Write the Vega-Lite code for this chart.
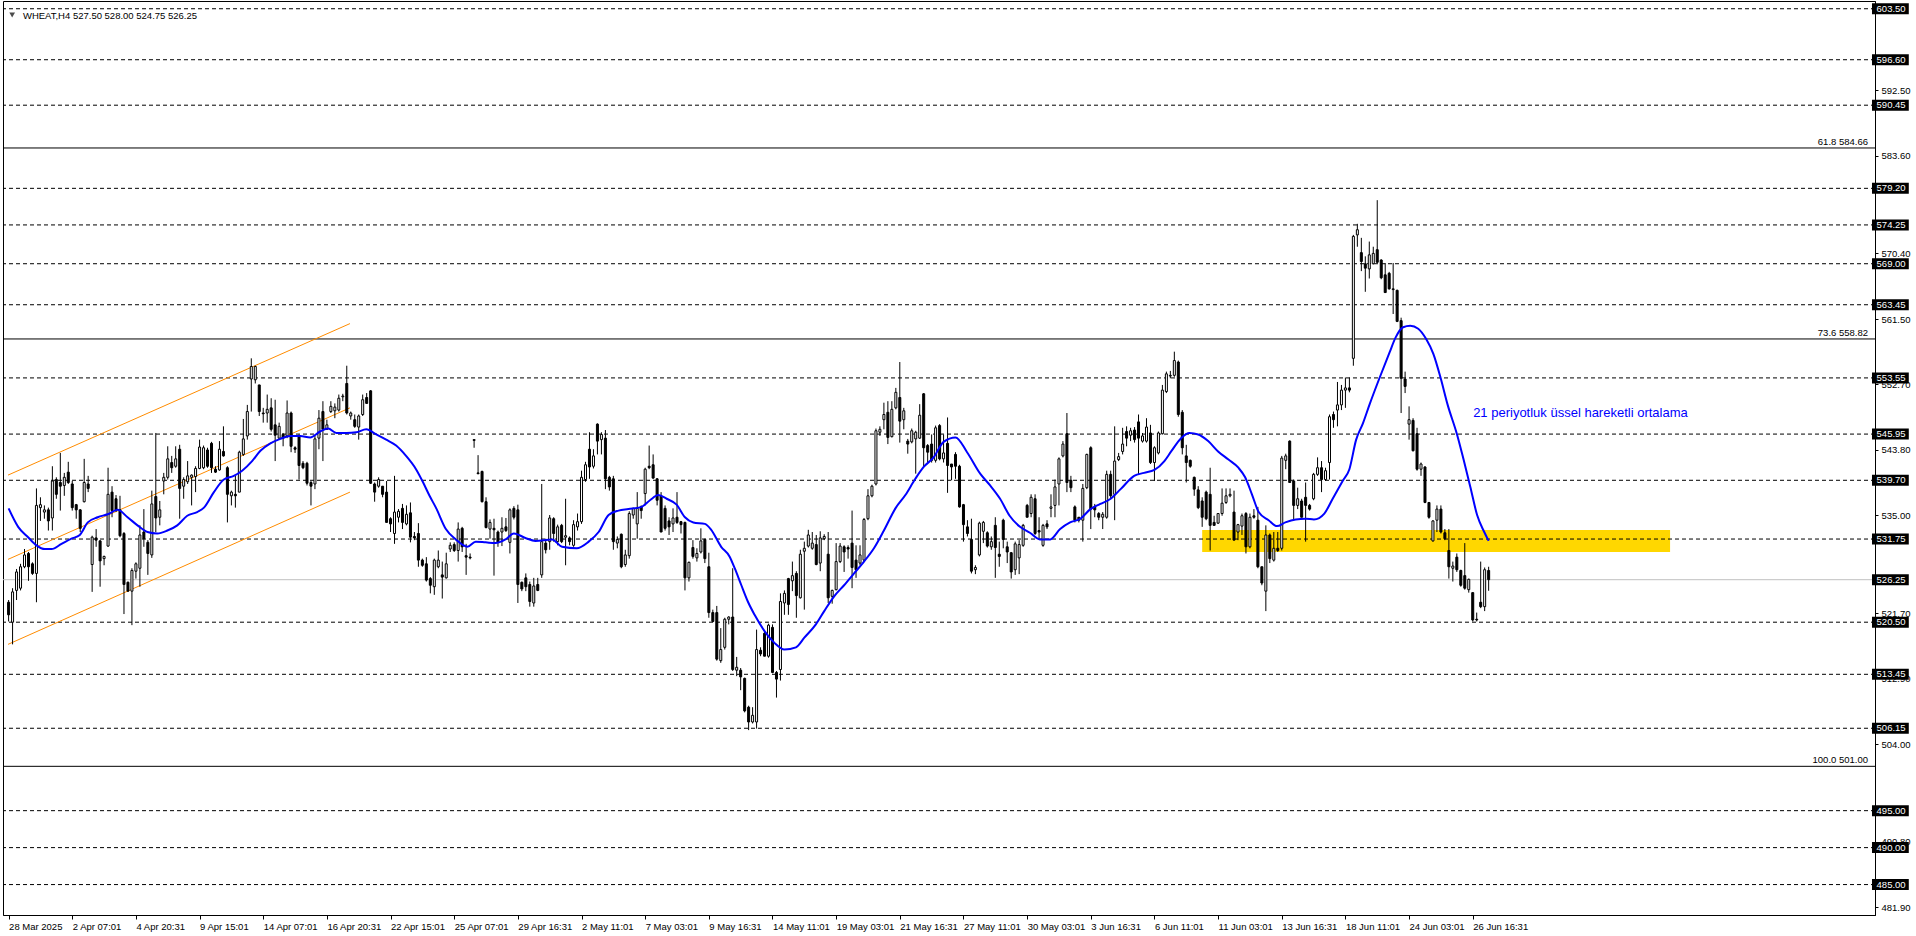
{
"$schema":"https://vega.github.io/schema/vega-lite/v6.json",
"width":1872,"height":914,
"autosize":{"type":"none"},
"padding":{"left":3,"top":1,"right":41,"bottom":21},
"background":"white",
"config":{"view":{"stroke":"black","strokeWidth":1},"font":"Liberation Sans"},
"datasets":{
"candles":[
{"i":0,"o":523.2,"h":523.5,"l":520.6,"c":521.5},{"i":1,"o":520.5,"h":525.1,"l":517.5,"c":524.6},{"i":2,"o":524.8,"h":527.7,"l":523.5,"c":527.3},{"i":3,"o":525.1,"h":528.4,"l":524.8,"c":528.0},{"i":4,"o":528.0,"h":530.4,"l":527.8,"c":529.6},{"i":5,"o":529.8,"h":530.0,"l":526.1,"c":528.0},{"i":6,"o":528.4,"h":528.6,"l":526.9,"c":527.1},{"i":7,"o":527.1,"h":538.6,"l":523.2,"c":536.3},{"i":8,"o":536.0,"h":537.4,"l":534.2,"c":536.4},{"i":9,"o":535.4,"h":536.3,"l":534.5,"c":535.7},
{"i":10,"o":535.7,"h":536.0,"l":532.9,"c":534.2},{"i":11,"o":534.6,"h":541.6,"l":532.9,"c":539.6},{"i":12,"o":539.8,"h":540.1,"l":537.2,"c":537.8},{"i":13,"o":539.4,"h":543.4,"l":535.6,"c":538.9},{"i":14,"o":539.0,"h":540.7,"l":537.6,"c":540.1},{"i":15,"o":540.8,"h":542.2,"l":539.2,"c":539.4},{"i":16,"o":539.2,"h":539.6,"l":535.6,"c":536.0},{"i":17,"o":536.4,"h":536.5,"l":534.5,"c":535.7},{"i":18,"o":535.7,"h":535.8,"l":532.7,"c":533.2},{"i":19,"o":536.8,"h":542.6,"l":536.7,"c":539.4},
{"i":20,"o":539.2,"h":540.3,"l":538.1,"c":538.6},{"i":21,"o":528.3,"h":532.2,"l":524.6,"c":532.0},{"i":22,"o":531.9,"h":533.1,"l":530.7,"c":531.6},{"i":23,"o":531.5,"h":531.6,"l":525.3,"c":528.8},{"i":24,"o":529.1,"h":529.5,"l":528.2,"c":529.4},{"i":25,"o":530.8,"h":541.4,"l":530.7,"c":537.8},{"i":26,"o":538.1,"h":538.9,"l":534.7,"c":535.6},{"i":27,"o":537.2,"h":537.7,"l":535.4,"c":535.7},{"i":28,"o":535.7,"h":537.6,"l":532.0,"c":532.2},{"i":29,"o":532.5,"h":532.7,"l":521.6,"c":525.6},
{"i":30,"o":525.9,"h":526.0,"l":524.6,"c":524.7},{"i":31,"o":524.7,"h":527.8,"l":520.1,"c":527.5},{"i":32,"o":527.4,"h":528.6,"l":526.4,"c":528.4},{"i":33,"o":527.8,"h":533.6,"l":525.3,"c":532.3},{"i":34,"o":532.7,"h":535.8,"l":530.7,"c":531.8},{"i":35,"o":531.3,"h":531.6,"l":526.9,"c":529.8},{"i":36,"o":529.6,"h":538.3,"l":529.2,"c":536.5},{"i":37,"o":537.5,"h":546.1,"l":532.7,"c":534.6},{"i":38,"o":534.7,"h":536.9,"l":533.6,"c":535.7},{"i":39,"o":539.6,"h":540.7,"l":537.8,"c":540.1},
{"i":40,"o":540.1,"h":544.3,"l":539.8,"c":542.6},{"i":41,"o":542.1,"h":543.0,"l":540.7,"c":541.4},{"i":42,"o":541.6,"h":544.3,"l":541.4,"c":542.6},{"i":43,"o":543.9,"h":544.5,"l":534.5,"c":538.6},{"i":44,"o":538.9,"h":540.1,"l":537.2,"c":539.8},{"i":45,"o":539.5,"h":542.3,"l":539.2,"c":540.3},{"i":46,"o":540.1,"h":540.5,"l":536.3,"c":540.4},{"i":47,"o":540.2,"h":541.6,"l":538.1,"c":541.3},{"i":48,"o":541.3,"h":545.2,"l":541.2,"c":544.2},{"i":49,"o":541.4,"h":544.4,"l":541.2,"c":544.1},
{"i":50,"o":543.8,"h":544.1,"l":541.4,"c":541.6},{"i":51,"o":544.7,"h":544.9,"l":540.7,"c":541.4},{"i":52,"o":541.2,"h":541.6,"l":540.7,"c":540.8},{"i":53,"o":541.1,"h":545.0,"l":541.0,"c":543.9},{"i":54,"o":543.6,"h":547.0,"l":542.9,"c":543.0},{"i":55,"o":541.4,"h":541.6,"l":534.0,"c":537.8},{"i":56,"o":537.6,"h":538.3,"l":536.3,"c":538.1},{"i":57,"o":537.8,"h":540.3,"l":536.0,"c":537.6},{"i":58,"o":538.1,"h":543.7,"l":538.1,"c":543.5},{"i":59,"o":543.2,"h":548.0,"l":543.0,"c":545.3},
{"i":60,"o":545.7,"h":549.9,"l":545.2,"c":549.0},{"i":61,"o":553.4,"h":556.2,"l":549.0,"c":555.1},{"i":62,"o":553.3,"h":555.2,"l":552.8,"c":555.1},{"i":63,"o":552.6,"h":552.6,"l":548.4,"c":549.0},{"i":64,"o":548.8,"h":549.5,"l":547.5,"c":548.7},{"i":65,"o":548.8,"h":551.3,"l":547.5,"c":549.3},{"i":66,"o":549.5,"h":550.8,"l":546.3,"c":546.6},{"i":67,"o":547.2,"h":550.6,"l":542.3,"c":545.8},{"i":68,"o":545.4,"h":547.5,"l":545.2,"c":547.0},{"i":69,"o":545.9,"h":546.1,"l":544.3,"c":545.4},
{"i":70,"o":545.7,"h":550.5,"l":545.4,"c":548.8},{"i":71,"o":548.8,"h":549.0,"l":543.5,"c":544.3},{"i":72,"o":544.1,"h":544.3,"l":543.4,"c":543.9},{"i":73,"o":545.7,"h":545.9,"l":539.8,"c":541.7},{"i":74,"o":542.0,"h":542.3,"l":541.2,"c":541.4},{"i":75,"o":542.0,"h":542.2,"l":539.0,"c":539.3},{"i":76,"o":539.4,"h":539.6,"l":536.3,"c":538.9},{"i":77,"o":539.2,"h":545.7,"l":538.5,"c":545.3},{"i":78,"o":545.4,"h":549.2,"l":543.9,"c":548.1},{"i":79,"o":549.0,"h":550.4,"l":542.3,"c":546.6},
{"i":80,"o":546.6,"h":547.9,"l":546.5,"c":547.2},{"i":81,"o":549.0,"h":550.4,"l":548.8,"c":549.7},{"i":82,"o":549.1,"h":550.1,"l":548.1,"c":549.6},{"i":83,"o":549.2,"h":551.3,"l":549.0,"c":550.8},{"i":84,"o":551.0,"h":551.4,"l":550.4,"c":551.1},{"i":85,"o":552.8,"h":555.2,"l":548.6,"c":548.8},{"i":86,"o":548.4,"h":549.0,"l":547.9,"c":548.8},{"i":87,"o":547.9,"h":548.6,"l":546.8,"c":547.0},{"i":88,"o":546.9,"h":548.6,"l":545.2,"c":548.4},{"i":89,"o":548.6,"h":551.3,"l":548.4,"c":550.6},
{"i":90,"o":550.9,"h":551.5,"l":550.1,"c":550.1},{"i":91,"o":551.8,"h":551.9,"l":539.2,"c":539.3},{"i":92,"o":539.2,"h":539.4,"l":536.8,"c":538.1},{"i":93,"o":538.9,"h":540.1,"l":538.7,"c":539.8},{"i":94,"o":538.9,"h":538.9,"l":537.4,"c":537.8},{"i":95,"o":538.1,"h":539.6,"l":534.0,"c":534.0},{"i":96,"o":534.5,"h":534.7,"l":532.7,"c":533.8},{"i":97,"o":532.5,"h":540.3,"l":531.1,"c":535.4},{"i":98,"o":534.7,"h":535.8,"l":534.0,"c":535.5},{"i":99,"o":535.9,"h":536.5,"l":533.1,"c":534.0},
{"i":100,"o":533.8,"h":536.3,"l":533.6,"c":535.1},{"i":101,"o":535.3,"h":536.7,"l":531.3,"c":532.0},{"i":102,"o":532.1,"h":532.7,"l":531.6,"c":531.9},{"i":103,"o":532.5,"h":533.9,"l":528.0,"c":528.9},{"i":104,"o":528.9,"h":529.1,"l":528.0,"c":528.2},{"i":105,"o":528.4,"h":529.3,"l":526.0,"c":526.2},{"i":106,"o":526.4,"h":526.6,"l":524.4,"c":525.5},{"i":107,"o":525.3,"h":529.1,"l":524.2,"c":528.9},{"i":108,"o":528.0,"h":530.2,"l":527.8,"c":528.9},{"i":109,"o":526.9,"h":528.7,"l":523.7,"c":526.6},
{"i":110,"o":526.5,"h":529.9,"l":526.4,"c":528.4},{"i":111,"o":530.4,"h":531.3,"l":530.0,"c":530.9},{"i":112,"o":531.0,"h":531.3,"l":530.0,"c":530.2},{"i":113,"o":530.2,"h":534.0,"l":528.7,"c":533.1},{"i":114,"o":533.2,"h":533.4,"l":530.0,"c":530.7},{"i":115,"o":529.5,"h":531.1,"l":526.9,"c":529.3},{"i":116,"o":529.3,"h":529.8,"l":529.0,"c":529.2},{"i":117,"o":545.2,"h":545.2,"l":544.1,"c":545.1},{"i":118,"o":540.7,"h":543.1,"l":540.5,"c":540.6},{"i":119,"o":540.9,"h":541.0,"l":536.7,"c":536.8},
{"i":120,"o":536.8,"h":537.4,"l":533.2,"c":533.3},{"i":121,"o":533.1,"h":534.4,"l":531.8,"c":534.0},{"i":122,"o":533.2,"h":534.5,"l":526.8,"c":533.0},{"i":123,"o":532.7,"h":532.9,"l":530.7,"c":531.3},{"i":124,"o":532.7,"h":534.7,"l":530.8,"c":533.2},{"i":125,"o":533.4,"h":534.6,"l":532.7,"c":532.9},{"i":126,"o":531.3,"h":535.9,"l":529.8,"c":535.7},{"i":127,"o":535.9,"h":536.2,"l":534.4,"c":534.7},{"i":128,"o":535.7,"h":536.4,"l":523.1,"c":525.6},{"i":129,"o":525.9,"h":526.0,"l":524.7,"c":525.0},
{"i":130,"o":526.5,"h":527.1,"l":524.7,"c":525.3},{"i":131,"o":525.6,"h":526.0,"l":522.6,"c":523.3},{"i":132,"o":523.1,"h":526.5,"l":522.6,"c":525.4},{"i":133,"o":525.6,"h":526.5,"l":524.7,"c":524.8},{"i":134,"o":526.9,"h":539.2,"l":526.5,"c":531.4},{"i":135,"o":531.2,"h":531.8,"l":529.8,"c":530.3},{"i":136,"o":531.4,"h":535.0,"l":530.3,"c":534.6},{"i":137,"o":534.5,"h":534.7,"l":531.4,"c":532.5},{"i":138,"o":531.4,"h":533.7,"l":530.9,"c":533.4},{"i":139,"o":533.6,"h":533.8,"l":531.2,"c":531.4},
{"i":140,"o":532.0,"h":537.2,"l":528.2,"c":532.2},{"i":141,"o":531.9,"h":532.1,"l":530.9,"c":531.4},{"i":142,"o":530.9,"h":534.3,"l":530.7,"c":533.7},{"i":143,"o":533.4,"h":535.2,"l":532.9,"c":534.1},{"i":144,"o":534.1,"h":541.0,"l":533.8,"c":540.1},{"i":145,"o":539.8,"h":542.2,"l":539.5,"c":541.8},{"i":146,"o":543.9,"h":546.2,"l":539.9,"c":541.5},{"i":147,"o":541.6,"h":543.9,"l":541.3,"c":543.0},{"i":148,"o":547.3,"h":547.4,"l":543.2,"c":545.0},{"i":149,"o":545.2,"h":546.2,"l":543.2,"c":545.9},
{"i":150,"o":545.4,"h":546.5,"l":538.5,"c":539.9},{"i":151,"o":540.1,"h":540.3,"l":538.3,"c":538.8},{"i":152,"o":539.9,"h":540.3,"l":530.3,"c":531.4},{"i":153,"o":531.2,"h":532.1,"l":530.5,"c":531.7},{"i":154,"o":532.4,"h":532.5,"l":527.8,"c":528.0},{"i":155,"o":528.3,"h":530.3,"l":528.0,"c":529.6},{"i":156,"o":529.5,"h":535.5,"l":529.1,"c":535.2},{"i":157,"o":535.0,"h":536.0,"l":534.5,"c":535.9},{"i":158,"o":533.8,"h":538.1,"l":531.8,"c":535.9},{"i":159,"o":536.1,"h":536.3,"l":534.5,"c":535.6},
{"i":160,"o":537.9,"h":541.4,"l":536.3,"c":541.2},{"i":161,"o":541.6,"h":544.4,"l":541.2,"c":541.4},{"i":162,"o":541.8,"h":543.2,"l":539.9,"c":540.0},{"i":163,"o":539.9,"h":540.0,"l":536.3,"c":537.0},{"i":164,"o":537.6,"h":538.1,"l":532.7,"c":532.7},{"i":165,"o":535.9,"h":536.3,"l":532.9,"c":533.2},{"i":166,"o":534.2,"h":534.7,"l":532.3,"c":533.4},{"i":167,"o":533.8,"h":535.9,"l":532.7,"c":534.6},{"i":168,"o":534.7,"h":538.1,"l":533.8,"c":534.0},{"i":169,"o":534.1,"h":534.2,"l":532.5,"c":533.7},
{"i":170,"o":534.0,"h":534.1,"l":524.8,"c":526.5},{"i":171,"o":526.5,"h":528.7,"l":526.0,"c":528.6},{"i":172,"o":530.6,"h":531.6,"l":529.1,"c":529.4},{"i":173,"o":529.2,"h":530.5,"l":528.7,"c":529.8},{"i":174,"o":530.0,"h":533.2,"l":529.8,"c":531.5},{"i":175,"o":531.7,"h":531.8,"l":528.5,"c":529.1},{"i":176,"o":528.0,"h":529.9,"l":521.1,"c":521.8},{"i":177,"o":521.8,"h":522.2,"l":520.5,"c":520.6},{"i":178,"o":521.8,"h":522.7,"l":515.3,"c":515.5},{"i":179,"o":515.3,"h":519.7,"l":515.0,"c":516.8},
{"i":180,"o":517.1,"h":521.1,"l":516.8,"c":520.9},{"i":181,"o":520.9,"h":521.3,"l":520.2,"c":521.2},{"i":182,"o":521.2,"h":527.8,"l":513.9,"c":514.1},{"i":183,"o":514.0,"h":515.8,"l":513.2,"c":514.4},{"i":184,"o":514.0,"h":514.3,"l":511.3,"c":513.1},{"i":185,"o":512.9,"h":513.0,"l":508.3,"c":508.5},{"i":186,"o":509.0,"h":509.2,"l":505.9,"c":507.0},{"i":187,"o":507.0,"h":509.0,"l":506.8,"c":507.9},{"i":188,"o":507.0,"h":519.5,"l":506.1,"c":516.8},{"i":189,"o":516.7,"h":517.1,"l":515.9,"c":516.2},
{"i":190,"o":519.0,"h":519.3,"l":515.9,"c":515.9},{"i":191,"o":515.9,"h":520.3,"l":515.7,"c":520.1},{"i":192,"o":519.8,"h":520.2,"l":513.6,"c":513.7},{"i":193,"o":513.7,"h":513.9,"l":510.3,"c":512.8},{"i":194,"o":514.1,"h":524.4,"l":512.6,"c":523.3},{"i":195,"o":523.1,"h":524.8,"l":521.5,"c":524.4},{"i":196,"o":526.4,"h":526.5,"l":521.5,"c":522.9},{"i":197,"o":526.1,"h":528.7,"l":524.7,"c":526.8},{"i":198,"o":527.1,"h":527.4,"l":521.1,"c":524.1},{"i":199,"o":523.8,"h":530.3,"l":523.7,"c":529.7},
{"i":200,"o":530.1,"h":531.4,"l":522.2,"c":530.5},{"i":201,"o":530.8,"h":533.0,"l":530.6,"c":532.3},{"i":202,"o":530.5,"h":532.7,"l":530.3,"c":531.2},{"i":203,"o":531.0,"h":532.3,"l":528.2,"c":528.3},{"i":204,"o":528.5,"h":532.8,"l":527.4,"c":531.9},{"i":205,"o":531.8,"h":532.4,"l":531.6,"c":532.1},{"i":206,"o":529.7,"h":532.7,"l":523.1,"c":523.8},{"i":207,"o":524.0,"h":524.9,"l":523.0,"c":524.8},{"i":208,"o":524.9,"h":531.2,"l":524.8,"c":528.7},{"i":209,"o":528.7,"h":531.2,"l":528.5,"c":530.8},
{"i":210,"o":530.7,"h":530.9,"l":527.3,"c":530.0},{"i":211,"o":530.6,"h":530.9,"l":529.1,"c":530.4},{"i":212,"o":531.2,"h":535.6,"l":525.1,"c":527.9},{"i":213,"o":528.9,"h":530.9,"l":526.5,"c":527.6},{"i":214,"o":528.5,"h":530.9,"l":528.2,"c":529.6},{"i":215,"o":528.9,"h":534.6,"l":528.7,"c":534.4},{"i":216,"o":534.5,"h":538.5,"l":534.3,"c":537.6},{"i":217,"o":537.6,"h":539.1,"l":537.4,"c":538.9},{"i":218,"o":539.2,"h":546.7,"l":539.0,"c":546.4},{"i":219,"o":546.2,"h":547.0,"l":545.7,"c":546.6},
{"i":220,"o":547.9,"h":550.2,"l":546.6,"c":548.6},{"i":221,"o":548.9,"h":550.4,"l":544.6,"c":545.5},{"i":222,"o":545.6,"h":550.4,"l":545.5,"c":549.3},{"i":223,"o":549.5,"h":552.2,"l":549.3,"c":551.6},{"i":224,"o":550.9,"h":555.7,"l":544.8,"c":547.7},{"i":225,"o":547.9,"h":549.5,"l":546.6,"c":549.1},{"i":226,"o":545.0,"h":545.3,"l":543.3,"c":544.6},{"i":227,"o":544.9,"h":546.7,"l":544.7,"c":546.4},{"i":228,"o":545.3,"h":546.4,"l":540.6,"c":546.2},{"i":229,"o":545.4,"h":550.0,"l":545.3,"c":548.5},
{"i":230,"o":551.4,"h":551.5,"l":541.5,"c":544.1},{"i":231,"o":544.4,"h":544.6,"l":542.1,"c":543.5},{"i":232,"o":544.6,"h":545.9,"l":542.1,"c":542.4},{"i":233,"o":542.4,"h":547.1,"l":542.1,"c":546.8},{"i":234,"o":547.1,"h":547.3,"l":542.4,"c":542.6},{"i":235,"o":542.6,"h":545.9,"l":542.1,"c":543.4},{"i":236,"o":544.7,"h":548.2,"l":538.0,"c":541.7},{"i":237,"o":541.9,"h":541.9,"l":539.7,"c":541.5},{"i":238,"o":543.2,"h":543.5,"l":539.9,"c":541.6},{"i":239,"o":541.6,"h":541.8,"l":536.0,"c":536.1},
{"i":240,"o":536.4,"h":536.5,"l":531.4,"c":533.7},{"i":241,"o":533.4,"h":534.3,"l":532.1,"c":532.5},{"i":242,"o":531.7,"h":534.5,"l":527.1,"c":527.4},{"i":243,"o":527.6,"h":528.2,"l":527.0,"c":527.9},{"i":244,"o":529.6,"h":534.1,"l":529.4,"c":533.9},{"i":245,"o":532.8,"h":534.2,"l":531.2,"c":534.0},{"i":246,"o":532.6,"h":532.8,"l":530.6,"c":530.8},{"i":247,"o":530.7,"h":532.1,"l":530.3,"c":531.4},{"i":248,"o":533.6,"h":534.7,"l":526.5,"c":530.6},{"i":249,"o":529.7,"h":531.4,"l":528.0,"c":529.4},
{"i":250,"o":534.3,"h":534.5,"l":530.5,"c":531.7},{"i":251,"o":530.7,"h":531.4,"l":528.5,"c":530.0},{"i":252,"o":529.9,"h":530.0,"l":526.4,"c":527.3},{"i":253,"o":527.6,"h":531.4,"l":526.9,"c":531.1},{"i":254,"o":529.2,"h":531.6,"l":527.0,"c":531.0},{"i":255,"o":530.9,"h":533.8,"l":530.7,"c":533.6},{"i":256,"o":536.3,"h":536.5,"l":534.7,"c":534.7},{"i":257,"o":535.2,"h":537.8,"l":534.7,"c":537.4},{"i":258,"o":537.2,"h":537.8,"l":532.3,"c":532.5},{"i":259,"o":532.9,"h":534.7,"l":531.8,"c":532.7},
{"i":260,"o":530.9,"h":533.8,"l":530.7,"c":533.6},{"i":261,"o":533.8,"h":534.3,"l":533.1,"c":533.4},{"i":262,"o":535.9,"h":537.8,"l":534.7,"c":536.1},{"i":263,"o":536.3,"h":539.8,"l":534.7,"c":538.8},{"i":264,"o":539.2,"h":542.8,"l":536.3,"c":542.6},{"i":265,"o":543.0,"h":545.0,"l":542.8,"c":544.6},{"i":266,"o":546.0,"h":548.8,"l":538.1,"c":539.4},{"i":267,"o":539.7,"h":540.3,"l":538.1,"c":538.7},{"i":268,"o":536.1,"h":536.3,"l":534.0,"c":534.3},{"i":269,"o":534.7,"h":534.7,"l":534.0,"c":534.3},
{"i":270,"o":534.3,"h":539.2,"l":531.4,"c":538.6},{"i":271,"o":538.7,"h":543.3,"l":538.5,"c":543.2},{"i":272,"o":544.1,"h":544.3,"l":533.1,"c":535.8},{"i":273,"o":536.1,"h":536.5,"l":534.7,"c":535.7},{"i":274,"o":535.2,"h":535.4,"l":534.3,"c":534.7},{"i":275,"o":534.7,"h":535.4,"l":533.1,"c":535.1},{"i":276,"o":534.7,"h":541.0,"l":534.5,"c":540.5},{"i":277,"o":540.5,"h":541.0,"l":537.2,"c":537.6},{"i":278,"o":537.8,"h":547.0,"l":534.3,"c":542.3},{"i":279,"o":542.5,"h":543.4,"l":542.3,"c":542.9},
{"i":280,"o":543.6,"h":546.8,"l":543.2,"c":544.6},{"i":281,"o":546.3,"h":547.0,"l":544.3,"c":545.4},{"i":282,"o":545.8,"h":546.8,"l":545.0,"c":546.4},{"i":283,"o":546.5,"h":546.9,"l":544.8,"c":545.2},{"i":284,"o":547.6,"h":548.6,"l":540.5,"c":545.4},{"i":285,"o":545.0,"h":546.1,"l":544.8,"c":545.7},{"i":286,"o":545.0,"h":548.1,"l":544.8,"c":546.9},{"i":287,"o":546.1,"h":547.2,"l":541.9,"c":542.1},{"i":288,"o":542.1,"h":544.3,"l":539.6,"c":544.1},{"i":289,"o":543.4,"h":546.3,"l":543.2,"c":546.1},
{"i":290,"o":546.0,"h":552.6,"l":545.9,"c":551.9},{"i":291,"o":551.7,"h":554.4,"l":551.5,"c":554.1},{"i":292,"o":553.8,"h":554.5,"l":553.5,"c":553.9},{"i":293,"o":553.9,"h":557.1,"l":553.7,"c":555.9},{"i":294,"o":555.7,"h":555.9,"l":548.3,"c":548.6},{"i":295,"o":548.9,"h":549.2,"l":543.2,"c":544.1},{"i":296,"o":543.0,"h":544.5,"l":539.4,"c":542.1},{"i":297,"o":542.4,"h":542.5,"l":541.4,"c":541.6},{"i":298,"o":540.1,"h":540.2,"l":537.6,"c":538.5},{"i":299,"o":538.4,"h":538.9,"l":535.8,"c":536.0},
{"i":300,"o":536.9,"h":537.4,"l":533.4,"c":534.7},{"i":301,"o":538.1,"h":538.3,"l":534.3,"c":534.5},{"i":302,"o":537.8,"h":541.4,"l":530.2,"c":533.6},{"i":303,"o":534.0,"h":534.9,"l":533.6,"c":533.6},{"i":304,"o":533.9,"h":535.2,"l":533.8,"c":535.2},{"i":305,"o":535.2,"h":538.6,"l":534.9,"c":536.6},{"i":306,"o":536.7,"h":538.6,"l":536.5,"c":537.6},{"i":307,"o":537.6,"h":538.6,"l":537.4,"c":537.8},{"i":308,"o":535.4,"h":538.3,"l":531.6,"c":531.6},{"i":309,"o":532.7,"h":533.8,"l":531.6,"c":533.7},
{"i":310,"o":533.5,"h":535.2,"l":532.3,"c":534.9},{"i":311,"o":535.2,"h":535.4,"l":529.8,"c":530.7},{"i":312,"o":530.7,"h":535.2,"l":530.5,"c":534.7},{"i":313,"o":534.9,"h":535.8,"l":534.5,"c":534.7},{"i":314,"o":534.3,"h":536.1,"l":527.8,"c":528.0},{"i":315,"o":528.0,"h":528.0,"l":525.5,"c":525.8},{"i":316,"o":524.7,"h":533.6,"l":522.0,"c":532.3},{"i":317,"o":532.3,"h":532.5,"l":528.5,"c":529.1},{"i":318,"o":528.9,"h":532.7,"l":528.7,"c":530.5},{"i":319,"o":530.5,"h":532.7,"l":530.0,"c":530.2},
{"i":320,"o":530.5,"h":543.0,"l":530.2,"c":542.7},{"i":321,"o":542.4,"h":543.3,"l":541.2,"c":543.0},{"i":322,"o":545.0,"h":545.1,"l":539.4,"c":539.4},{"i":323,"o":539.6,"h":539.8,"l":534.3,"c":536.3},{"i":324,"o":536.3,"h":538.7,"l":535.8,"c":537.2},{"i":325,"o":536.9,"h":537.2,"l":534.7,"c":534.7},{"i":326,"o":537.4,"h":539.4,"l":531.4,"c":536.3},{"i":327,"o":536.3,"h":536.5,"l":535.6,"c":535.8},{"i":328,"o":537.2,"h":540.7,"l":537.0,"c":540.5},{"i":329,"o":540.5,"h":542.8,"l":540.3,"c":541.4},
{"i":330,"o":541.4,"h":542.3,"l":538.1,"c":539.8},{"i":331,"o":539.8,"h":541.4,"l":539.6,"c":541.0},{"i":332,"o":542.1,"h":548.6,"l":539.8,"c":548.3},{"i":333,"o":548.6,"h":549.0,"l":546.8,"c":547.9},{"i":334,"o":549.2,"h":553.0,"l":547.0,"c":549.9},{"i":335,"o":549.9,"h":552.6,"l":549.2,"c":551.9},{"i":336,"o":551.9,"h":553.6,"l":549.5,"c":552.2},{"i":337,"o":552.2,"h":553.6,"l":551.6,"c":551.9},{"i":338,"o":556.2,"h":572.9,"l":555.2,"c":572.7},{"i":339,"o":572.9,"h":574.4,"l":571.3,"c":573.6},
{"i":340,"o":570.5,"h":572.5,"l":568.0,"c":569.3},{"i":341,"o":569.0,"h":570.0,"l":565.2,"c":568.4},{"i":342,"o":568.3,"h":572.0,"l":567.0,"c":570.2},{"i":343,"o":569.0,"h":571.3,"l":568.9,"c":570.4},{"i":344,"o":570.9,"h":577.6,"l":569.1,"c":569.2},{"i":345,"o":569.5,"h":569.6,"l":566.9,"c":567.1},{"i":346,"o":567.5,"h":569.1,"l":565.1,"c":565.1},{"i":347,"o":567.7,"h":567.9,"l":565.5,"c":565.6},{"i":348,"o":565.6,"h":569.1,"l":562.2,"c":565.5},{"i":349,"o":565.4,"h":565.5,"l":561.1,"c":561.2},
{"i":350,"o":561.3,"h":561.7,"l":548.8,"c":553.5},{"i":351,"o":553.4,"h":554.4,"l":551.5,"c":552.4},{"i":352,"o":547.3,"h":549.7,"l":545.2,"c":547.9},{"i":353,"o":547.8,"h":548.1,"l":543.6,"c":543.7},{"i":354,"o":546.0,"h":546.8,"l":541.0,"c":541.2},{"i":355,"o":541.2,"h":542.1,"l":540.3,"c":541.9},{"i":356,"o":541.5,"h":541.6,"l":536.6,"c":536.7},{"i":357,"o":536.7,"h":536.7,"l":534.5,"c":534.7},{"i":358,"o":531.5,"h":534.3,"l":531.4,"c":534.2},{"i":359,"o":534.3,"h":536.3,"l":532.7,"c":535.8},
{"i":360,"o":535.8,"h":536.3,"l":532.5,"c":532.7},{"i":361,"o":532.6,"h":533.1,"l":531.6,"c":531.8},{"i":362,"o":530.2,"h":533.1,"l":526.4,"c":528.0},{"i":363,"o":527.8,"h":528.7,"l":526.0,"c":528.1},{"i":364,"o":529.3,"h":529.8,"l":527.3,"c":527.6},{"i":365,"o":527.5,"h":527.6,"l":525.3,"c":525.5},{"i":366,"o":526.8,"h":531.2,"l":524.9,"c":525.1},{"i":367,"o":524.9,"h":526.4,"l":524.5,"c":526.3},{"i":368,"o":524.5,"h":524.5,"l":520.6,"c":520.8},{"i":369,"o":520.9,"h":521.8,"l":520.6,"c":520.8},
{"i":370,"o":523.2,"h":528.7,"l":522.4,"c":522.6},{"i":371,"o":522.6,"h":527.9,"l":522.0,"c":527.6},{"i":372,"o":527.5,"h":528.0,"l":524.75,"c":526.25}
],
"ema":[
{"i":0,"v":535.9},{"i":2.4,"v":533.4},{"i":4.9,"v":532.0},{"i":7,"v":530.9},{"i":9.1,"v":530.4},{"i":10.8,"v":530.4},{"i":13.3,"v":531.1},{"i":15.8,"v":531.8},{"i":17.9,"v":532.3},{"i":19.9,"v":534.0},{"i":22.4,"v":534.7},{"i":24.9,"v":535.1},{"i":27.4,"v":535.7},{"i":29.9,"v":534.7},{"i":32.4,"v":533.6},{"i":34.9,"v":532.7},{"i":37.4,"v":532.5},{"i":39.9,"v":532.9},{"i":42.4,"v":533.6},{"i":44.9,"v":534.9},{"i":47.4,"v":535.4},{"i":49.1,"v":536.0},{"i":51.6,"v":538.1},{"i":54.1,"v":539.8},{"i":56.6,"v":540.3},{"i":58.7,"v":541.0},{"i":61.2,"v":542.3},{"i":63.3,"v":543.7},{"i":65.8,"v":544.7},{"i":68.3,"v":545.3},{"i":70.8,"v":545.7},{"i":73.3,"v":545.7},{"i":75.8,"v":545.5},{"i":78.3,"v":546.3},{"i":80.3,"v":546.7},{"i":82.4,"v":546.1},{"i":84.9,"v":546.1},{"i":87.4,"v":546.2},{"i":89.9,"v":546.6},{"i":92.4,"v":545.9},{"i":94.9,"v":545.2},{"i":97.4,"v":544.4},{"i":99.9,"v":543.0},{"i":102.4,"v":541.2},{"i":104.1,"v":539.5},{"i":105.8,"v":537.6},{"i":107.4,"v":536.0},{"i":109.9,"v":533.1},{"i":112.4,"v":531.7},{"i":115.3,"v":530.7},{"i":117.4,"v":531.4},{"i":119.9,"v":531.3},{"i":122.4,"v":531.2},{"i":124.9,"v":531.7},
{"i":127,"v":532.5},{"i":129.9,"v":531.9},{"i":132.4,"v":531.5},{"i":136.6,"v":531.7},{"i":139.1,"v":530.7},{"i":142.8,"v":530.5},{"i":145.8,"v":531.4},{"i":148.3,"v":532.7},{"i":150.8,"v":535.0},{"i":153.3,"v":535.6},{"i":155.8,"v":535.8},{"i":159.1,"v":536.1},{"i":161.2,"v":537.0},{"i":163.3,"v":537.7},{"i":165.4,"v":537.2},{"i":167.9,"v":536.4},{"i":170,"v":534.7},{"i":172.1,"v":534.0},{"i":175,"v":533.8},{"i":176.6,"v":533.0},{"i":179.1,"v":530.7},{"i":181.2,"v":529.4},{"i":182.5,"v":527.8},{"i":184.1,"v":525.6},{"i":185.8,"v":523.3},{"i":187.5,"v":521.5},{"i":190,"v":519.3},{"i":192.5,"v":517.7},{"i":195,"v":516.8},{"i":197.9,"v":517.1},{"i":200,"v":518.4},{"i":202.9,"v":520.2},{"i":205,"v":522.0},{"i":207.5,"v":524.0},{"i":210,"v":525.5},{"i":212.5,"v":527.1},{"i":215,"v":528.7},{"i":217.5,"v":530.5},{"i":220,"v":532.9},{"i":222.9,"v":535.9},{"i":225.4,"v":537.7},{"i":227.9,"v":539.9},{"i":230,"v":541.5},{"i":232.5,"v":542.8},{"i":235,"v":544.9},{"i":238,"v":545.5},{"i":240.9,"v":543.5},{"i":244.2,"v":540.6},{"i":246.7,"v":539.0},{"i":249.2,"v":537.2},
{"i":251.6,"v":534.9},{"i":254.2,"v":533.4},{"i":256.7,"v":532.6},{"i":259.2,"v":531.7},{"i":261.8,"v":531.7},{"i":264.3,"v":533.1},{"i":266.8,"v":534.0},{"i":269.4,"v":534.5},{"i":271.9,"v":535.8},{"i":274.4,"v":536.5},{"i":277,"v":537.2},{"i":279.5,"v":538.5},{"i":282.9,"v":540.3},{"i":285.4,"v":540.7},{"i":288,"v":541.1},{"i":290.5,"v":542.3},{"i":292.2,"v":543.6},{"i":294.7,"v":545.4},{"i":296.8,"v":546.1},{"i":299,"v":545.9},{"i":301.5,"v":545.0},{"i":304,"v":543.6},{"i":306.6,"v":542.5},{"i":309.1,"v":541.4},{"i":310.8,"v":540.1},{"i":312.5,"v":537.8},{"i":314.2,"v":535.4},{"i":316.7,"v":534.3},{"i":318.8,"v":533.5},{"i":320.9,"v":534.0},{"i":323.5,"v":534.4},{"i":326,"v":534.5},{"i":328.1,"v":534.4},{"i":330.7,"v":535.2},{"i":332.8,"v":537.2},{"i":335.3,"v":539.6},{"i":337,"v":541.2},{"i":338.7,"v":545.2},{"i":340.4,"v":547.4},{"i":342.1,"v":550.0},{"i":344.4,"v":553.3},{"i":347.1,"v":557.0},{"i":348.6,"v":559.0},{"i":350.5,"v":560.4},{"i":352.3,"v":560.6},{"i":354.3,"v":560.2},{"i":356.3,"v":558.8},{"i":358.1,"v":556.8},{"i":359.9,"v":553.6},{"i":361.7,"v":549.9},{"i":364,"v":546.0},{"i":365.7,"v":542.5},{"i":367.4,"v":538.8},{"i":369.1,"v":535.0},{"i":370.8,"v":532.8},{"i":372,"v":531.5}
],
"channel":[
{"ln":"upper","i":-0.15,"p":540.4},{"ln":"upper","i":85.8,"p":560.9},
{"ln":"middle","i":-0.15,"p":529.0},{"ln":"middle","i":85.8,"p":549.5},
{"ln":"lower","i":-0.15,"p":517.5},{"ln":"lower","i":85.8,"p":538.1}
],
"levels":[{"p":603.5},{"p":596.6},{"p":590.45},{"p":579.2},{"p":574.25},{"p":569.0},{"p":563.45},{"p":553.55},{"p":545.95},{"p":539.7},{"p":531.75},{"p":520.5},{"p":513.45},{"p":506.15},{"p":495.0},{"p":490.0},{"p":485.0}],
"boxes":[{"p":603.5},{"p":596.6},{"p":590.45},{"p":579.2},{"p":574.25},{"p":569.0},{"p":563.45},{"p":553.55},{"p":545.95},{"p":539.7},{"p":531.75},{"p":526.25},{"p":520.5},{"p":513.45},{"p":506.15},{"p":495.0},{"p":490.0},{"p":485.0}],
"fib":[{"p":584.66,"t":"61.8 584.66"},{"p":558.82,"t":"73.6 558.82"},{"p":501.0,"t":"100.0 501.00"}],
"zone":[{"i1":300,"i2":417.6,"p1":532.97,"p2":530.0}],
"bid":[{"p":526.25}]
},
"layer":[
{"data":{"name":"candles"},"mark":{"type":"rule","color":"black","strokeWidth":1,"opacity":0},
 "encoding":{"x":{"field":"i","type":"quantitative","title":null,"scale":{"domain":[-0.15,467.85],"nice":false,"zero":false},
   "axis":{"orient":"bottom","title":null,"grid":false,"values":[0,16,32,48,64,80,96,112,128,144,160,176,192,208,224,240,256,272,288,304,320,336,352,368],
   "labelExpr":"['28 Mar 2025','2 Apr 07:01','4 Apr 20:31','9 Apr 15:01','14 Apr 07:01','16 Apr 20:31','22 Apr 15:01','25 Apr 07:01','29 Apr 16:31','2 May 11:01','7 May 03:01','9 May 16:31','14 May 11:01','19 May 03:01','21 May 16:31','27 May 11:01','30 May 03:01','3 Jun 16:31','6 Jun 11:01','11 Jun 03:01','13 Jun 16:31','18 Jun 11:01','24 Jun 03:01','26 Jun 16:31'][round(datum.value/16)]",
   "labelAlign":"left","labelBaseline":"top","labelPadding":2,"labelFontSize":9.5,"labelColor":"black","labelFont":"Liberation Sans","labelOverlap":false,"labelFlush":false,"tickSize":4,"tickColor":"black","domainColor":"black"}},
 "y":{"field":"l","type":"quantitative","title":null,"scale":{"domain":[481.56,603.87],"nice":false,"zero":false},
   "axis":{"orient":"right","title":null,"grid":false,"values":[481.9,486.3,490.8,499.6,504.0,508.5,512.9,517.3,521.7,530.6,535.0,539.4,543.8,548.3,552.7,557.1,561.5,566.0,570.4,574.8,583.6,588.1,592.5,601.3],
   "format":".2f","labelFontSize":9.5,"labelColor":"black","labelFont":"Liberation Sans","labelOverlap":false,"labelFlush":false,"tickSize":3,"labelPadding":3,"tickColor":"black","domainColor":"black"}},
 "y2":{"field":"h"}}},
{"data":{"name":"zone"},"mark":{"type":"rect","color":"#ffd700"},
 "encoding":{"x":{"field":"i1","type":"quantitative","title":null,"scale":{"domain":[-0.15,467.85],"nice":false,"zero":false}},"x2":{"field":"i2"},
 "y":{"field":"p1","type":"quantitative","title":null,"scale":{"domain":[481.56,603.87],"nice":false,"zero":false}},"y2":{"field":"p2"}}},
{"data":{"name":"levels"},"mark":{"type":"rule","color":"black","strokeWidth":1,"strokeDash":[4,3]},
 "encoding":{"y":{"field":"p","type":"quantitative","title":null,"scale":{"domain":[481.56,603.87],"nice":false,"zero":false}}}},
{"data":{"name":"fib"},"mark":{"type":"rule","color":"black","strokeWidth":1},
 "encoding":{"y":{"field":"p","type":"quantitative","title":null,"scale":{"domain":[481.56,603.87],"nice":false,"zero":false}}}},
{"data":{"name":"bid"},"mark":{"type":"rule","color":"#c0c0c0","strokeWidth":1},
 "encoding":{"y":{"field":"p","type":"quantitative","title":null,"scale":{"domain":[481.56,603.87],"nice":false,"zero":false}}}},
{"data":{"name":"channel"},"mark":{"type":"line","color":"#ff8c00","strokeWidth":1},
 "encoding":{"x":{"field":"i","type":"quantitative","title":null,"scale":{"domain":[-0.15,467.85],"nice":false,"zero":false}},
 "y":{"field":"p","type":"quantitative","title":null,"scale":{"domain":[481.56,603.87],"nice":false,"zero":false}},"detail":{"field":"ln"}}},
{"data":{"name":"candles"},"mark":{"type":"rule","color":"black","strokeWidth":1},
 "encoding":{"x":{"field":"i","type":"quantitative","title":null,"scale":{"domain":[-0.15,467.85],"nice":false,"zero":false}},
 "y":{"field":"l","type":"quantitative","title":null,"scale":{"domain":[481.56,603.87],"nice":false,"zero":false}},"y2":{"field":"h"}}},
{"data":{"name":"candles"},"mark":{"type":"bar","width":2,"stroke":"black","strokeWidth":1},
 "encoding":{"x":{"field":"i","type":"quantitative","title":null,"scale":{"domain":[-0.15,467.85],"nice":false,"zero":false}},
 "y":{"field":"o","type":"quantitative","title":null,"scale":{"domain":[481.56,603.87],"nice":false,"zero":false}},
 "y2":{"field":"c"},
 "fill":{"condition":{"test":"datum.c >= datum.o","value":"white"},"value":"black"}}},
{"data":{"name":"ema"},"mark":{"type":"line","color":"#0000ff","strokeWidth":2,"interpolate":"monotone"},
 "encoding":{"x":{"field":"i","type":"quantitative","title":null,"scale":{"domain":[-0.15,467.85],"nice":false,"zero":false}},
 "y":{"field":"v","type":"quantitative","title":null,"scale":{"domain":[481.56,603.87],"nice":false,"zero":false}}}},
{"data":{"name":"fib"},"mark":{"type":"text","align":"right","baseline":"bottom","dy":-1,"fontSize":9.5,"color":"black","font":"Liberation Sans"},
 "encoding":{"x":{"datum":467.35,"type":"quantitative","title":null,"scale":{"domain":[-0.15,467.85],"nice":false,"zero":false}},
 "y":{"field":"p","type":"quantitative","title":null,"scale":{"domain":[481.56,603.87],"nice":false,"zero":false}},"text":{"field":"t"}}},
{"data":{"name":"boxes"},"mark":{"type":"bar","height":11,"color":"black"},
 "encoding":{"x":{"datum":468.35,"type":"quantitative","title":null,"scale":{"domain":[-0.15,467.85],"nice":false,"zero":false}},"x2":{"datum":477.6},
 "y":{"field":"p","type":"quantitative","title":null,"scale":{"domain":[481.56,603.87],"nice":false,"zero":false}}}},
{"data":{"name":"boxes"},"mark":{"type":"text","align":"left","baseline":"middle","fontSize":9.5,"color":"white","font":"Liberation Sans"},
 "encoding":{"x":{"datum":469.5,"type":"quantitative","title":null,"scale":{"domain":[-0.15,467.85],"nice":false,"zero":false}},
 "y":{"field":"p","type":"quantitative","title":null,"scale":{"domain":[481.56,603.87],"nice":false,"zero":false}},"text":{"field":"p","type":"quantitative","format":".2f"}}},
{"data":{"values":[{"t":"21 periyotluk üssel hareketli ortalama","i":368.1,"p":548.87}]},"mark":{"type":"text","align":"left","baseline":"middle","fontSize":13,"color":"#0000ff","font":"Liberation Sans"},
 "encoding":{"x":{"field":"i","type":"quantitative","title":null,"scale":{"domain":[-0.15,467.85],"nice":false,"zero":false}},
 "y":{"field":"p","type":"quantitative","title":null,"scale":{"domain":[481.56,603.87],"nice":false,"zero":false}},"text":{"field":"t"}}},
{"data":{"values":[{"i":0.9,"p":602.66}]},"mark":{"type":"point","shape":"triangle-down","filled":true,"size":32,"color":"black"},
 "encoding":{"x":{"field":"i","type":"quantitative","title":null,"scale":{"domain":[-0.15,467.85],"nice":false,"zero":false}},
 "y":{"field":"p","type":"quantitative","title":null,"scale":{"domain":[481.56,603.87],"nice":false,"zero":false}}}},
{"data":{"values":[{"t":"WHEAT,H4  527.50 528.00 524.75 526.25","i":3.6,"p":602.53}]},"mark":{"type":"text","align":"left","baseline":"middle","fontSize":9.5,"color":"black","font":"Liberation Sans"},
 "encoding":{"x":{"field":"i","type":"quantitative","title":null,"scale":{"domain":[-0.15,467.85],"nice":false,"zero":false}},
 "y":{"field":"p","type":"quantitative","title":null,"scale":{"domain":[481.56,603.87],"nice":false,"zero":false}},"text":{"field":"t"}}}
]
}
